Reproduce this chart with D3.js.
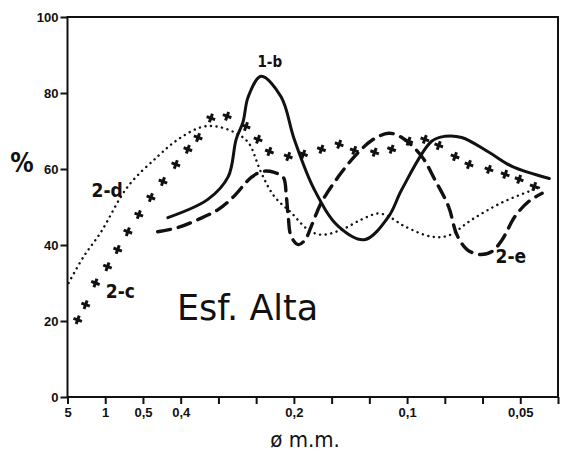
<!DOCTYPE html>
<html lang="es">
<head>
<meta charset="UTF-8">
<title>Esf. Alta</title>
<script src="https://d3js.org/d3.v7.min.js"></script>
<style>
    body { margin: 0; background: #fff; }
    svg { display: block; font-family: 'DejaVu Sans Condensed', 'DejaVu Sans', sans-serif; }
    .tick text { font-size: 13px; font-weight: bold; fill: #111; }
    .tick line { stroke: #111; stroke-width: 2px; }
    .frame { fill: none; stroke: #111; stroke-width: 2px; }
    .lab { font-size: 17px; font-weight: bold; fill: #111; }
</style>
</head>
<body>
<script>
// x positions are sieve steps (index along the bottom axis)
const xTicks = [0, 1, 2, 3, 4, 5, 6, 7, 8, 9, 10, 11, 12, 13];
const xTickLabels = ["5", "1", "0,5", "0,4", "", "", "0,2", "", "", "0,1", "", "", "0,05", ""];
const yTicks = [0, 20, 40, 60, 80, 100];

// 1-b : solid
const s1bX = [2.66, 3.72, 4.26, 4.47, 4.65, 4.79, 5.13, 5.66, 6.01, 6.54, 7.18, 7.87, 8.51, 8.86, 9.65, 10.0, 10.45, 11.17, 11.78, 12.77];
const s1bY = [47.2, 52, 58, 67.8, 72.3, 79, 84.4, 79, 67.8, 54.6, 44.9, 41.4, 47.5, 54.6, 67.3, 68.6, 68.3, 64.4, 60.7, 57.5];

// 2-d : dotted
const s2dX = [0.03, 0.43, 0.88, 1.6, 2.39, 2.93, 3.54, 3.94, 4.41, 4.79, 5.13, 5.48, 5.93, 6.38, 6.73, 7.26, 7.79, 8.24, 8.51, 8.94, 9.65, 10.1, 10.72, 11.52, 12.5];
const s2dY = [30, 37, 43.3, 55.4, 63.3, 67.8, 71, 71.2, 69.7, 67, 59.1, 52.8, 48.5, 44, 42.7, 44, 46.7, 48.3, 47.5, 44.9, 42.2, 42.5, 46.7, 51.2, 55.1];

// 2-c : crosses
const s2cX = [0.27, 0.48, 0.74, 1.06, 1.33, 1.6, 1.89, 2.21, 2.53, 2.87, 3.19, 3.46, 3.8, 4.23, 4.73, 5.05, 5.35, 5.85, 6.25, 6.73, 7.2, 7.6, 8.14, 8.59, 9.04, 9.47, 9.84, 10.27, 10.64, 11.17, 11.6, 11.97, 12.37];
const s2cY = [20.3, 24.3, 30, 34.3, 38.8, 43.5, 48, 52.5, 56.7, 61.2, 65.2, 68.3, 73.4, 73.9, 71.2, 67.8, 64.6, 63.3, 63.9, 65.2, 66.5, 64.9, 64.4, 65.2, 67.3, 67.8, 66.2, 63.3, 61.2, 59.9, 58.6, 57.3, 55.4];

// 2-e : dashed
const s2eX = [2.39, 2.93, 3.46, 3.99, 4.41, 4.87, 5.19, 5.48, 5.72, 5.8, 5.85, 5.93, 6.12, 6.3, 6.46, 6.73, 7.18, 7.61, 8.06, 8.51, 8.86, 9.39, 9.73, 10.1, 10.32, 10.59, 10.93, 11.25, 11.52, 11.86, 12.23, 12.58];
const s2eY = [43.5, 44.6, 46.7, 49.3, 52.8, 57.8, 59.4, 59.1, 57.8, 52.8, 47.5, 42.2, 40.1, 41.4, 44.9, 51.2, 58, 63.3, 67.5, 69.4, 68.3, 63.3, 57.3, 50.1, 42.7, 38.8, 37.5, 38.3, 41.4, 47.5, 51.5, 53.6];

const W = 567, H = 460;
const svg = d3.select("body").append("svg").attr("width", W).attr("height", H);

const x = d3.scaleLinear().domain([0, 13]).range([67.5, 558]);
const y = d3.scaleLinear().domain([0, 100]).range([397, 17]);

const zip = (xs, ys) => xs.map((v, i) => [v, ys[i]]);

// frame
svg.append("rect").attr("class", "frame")
    .attr("x", x(0)).attr("y", y(100))
    .attr("width", x(13) - x(0)).attr("height", y(0) - y(100));

// axes
const yAxis = svg.append("g")
    .attr("transform", `translate(${x(0)},0)`)
    .call(d3.axisLeft(y).tickValues(yTicks).tickSize(7).tickPadding(2));
yAxis.select(".domain").remove();

const xAxis = svg.append("g")
    .attr("transform", `translate(0,${y(0)})`)
    .call(d3.axisBottom(x).tickValues(xTicks).tickSize(7).tickPadding(4)
        .tickFormat((d, i) => xTickLabels[i]));
xAxis.select(".domain").remove();

const line = d3.line().x(d => x(d[0])).y(d => y(d[1])).curve(d3.curveCatmullRom);

// 1-b solid
svg.append("path").datum(zip(s1bX, s1bY))
    .attr("d", line).attr("fill", "none").attr("stroke", "#111")
    .attr("stroke-width", 3).attr("stroke-linecap", "round");

// 2-e dashed
svg.append("path").datum(zip(s2eX, s2eY))
    .attr("d", line).attr("fill", "none").attr("stroke", "#111")
    .attr("stroke-width", 3.4).attr("stroke-dasharray", "13,8").attr("stroke-linecap", "round");

// 2-d dotted
svg.append("path").datum(zip(s2dX, s2dY))
    .attr("d", line).attr("fill", "none").attr("stroke", "#111")
    .attr("stroke-width", 2.4).attr("stroke-dasharray", "0.1,5.5").attr("stroke-linecap", "round");

// 2-c crosses
svg.selectAll(".cross").data(zip(s2cX, s2cY)).enter().append("path")
    .attr("class", "cross")
    .attr("transform", d => `translate(${x(d[0])},${y(d[1])}) rotate(20)`)
    .attr("d", d3.symbol(d3.symbolCross, 45))
    .attr("fill", "#111");

// curve labels
const labels = [
    { t: "1-b", px: 5.36, py: 88, s: 15 },
    { t: "2-d", px: 1.05, py: 54, s: 19 },
    { t: "2-c", px: 1.4, py: 27.4, s: 19 },
    { t: "2-e", px: 11.75, py: 36.8, s: 19 }
];
svg.selectAll(".lab").data(labels).enter().append("text")
    .attr("class", "lab")
    .attr("x", d => x(d.px)).attr("y", d => y(d.py))
    .attr("text-anchor", "middle").attr("dominant-baseline", "middle")
    .style("font-size", d => d.s + "px")
    .text(d => d.t);

svg.append("text")
    .attr("x", 177).attr("y", 320)
    .style("font-family", "'DejaVu Sans', sans-serif")
    .style("font-size", "35px").attr("fill", "#111")
    .text("Esf. Alta");

svg.append("text")
    .attr("x", 22).attr("y", 172).attr("text-anchor", "middle")
    .style("font-size", "26px").style("font-weight", "bold").attr("fill", "#111")
    .text("%");

svg.append("text")
    .attr("x", 305).attr("y", 447).attr("text-anchor", "middle")
    .style("font-size", "22px").attr("fill", "#111")
    .text("ø m.m.");
</script>
</body>
</html>
